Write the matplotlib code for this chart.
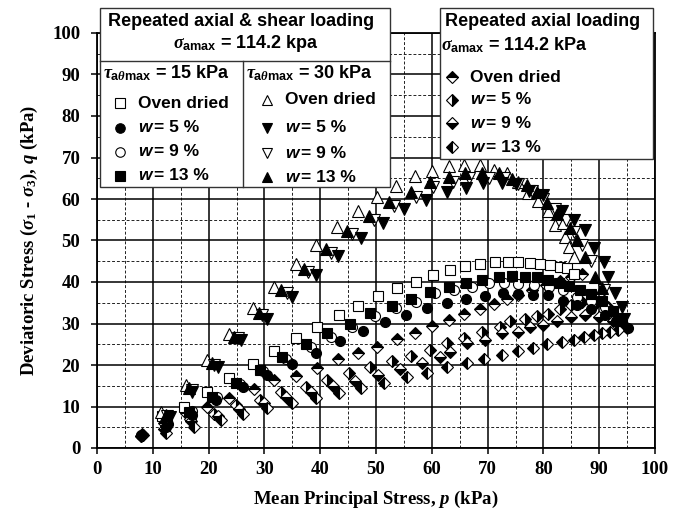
import matplotlib.pyplot as plt
from matplotlib.patches import Rectangle
from matplotlib.lines import Line2D
from matplotlib.ticker import MultipleLocator

plt.rcParams['mathtext.fontset'] = 'custom'
plt.rcParams['mathtext.rm'] = 'Liberation Serif:bold'
plt.rcParams['mathtext.it'] = 'Liberation Serif:italic:bold'
plt.rcParams['mathtext.bf'] = 'Liberation Serif:bold'
plt.rcParams['mathtext.sf'] = 'Liberation Sans:bold'

# ---- repeated axial & shear loading, tau = 15 kPa ----
p15_dry = [11.6, 15.6, 19.8, 23.7, 27.9, 31.7, 35.7, 39.5, 43.3, 46.7, 50.3, 53.8, 57.1, 60.2, 63.3,
           66.0, 68.7, 71.4, 73.6, 75.5, 77.6, 79.4, 81.2, 83.0, 84.2, 85.5]
q15_dry = [7.6, 9.8, 13.6, 16.8, 20.2, 23.4, 26.6, 29.2, 32.0, 34.3, 36.6, 38.5, 40.1, 41.8, 42.9,
           43.8, 44.3, 44.7, 44.9, 44.9, 44.5, 44.3, 44.1, 43.7, 43.3, 42.0]
p15_w5 = [7.9, 12.3, 17.1, 21.3, 26.1, 30.5, 35.0, 39.2, 43.6, 47.7, 51.7, 55.4, 59.2, 62.8, 66.2,
          69.6, 72.7, 75.5, 78.2, 80.9, 83.5, 86.0, 88.5, 91.0, 93.0, 95.2]
q15_w5 = [3.1, 5.1, 8.0, 11.6, 14.8, 17.5, 20.3, 23.0, 25.9, 28.3, 30.4, 32.0, 33.7, 35.0, 35.8,
          36.6, 37.3, 37.0, 36.9, 36.9, 35.5, 34.5, 33.5, 32.0, 30.5, 29.0]
p15_w9 = [12.8, 17.0, 21.5, 25.6, 29.8, 33.8, 38.3, 41.9, 45.7, 49.9, 53.5, 57.1, 60.6, 63.9, 67.2,
          70.2, 73.0, 75.5, 78.3, 81.0, 83.5, 86.0, 88.5, 91.0]
q15_w9 = [5.8, 9.0, 12.3, 15.5, 18.5, 21.5, 24.4, 26.8, 29.2, 31.8, 33.7, 35.3, 37.3, 38.1, 38.9,
          39.8, 39.8, 39.5, 39.3, 38.8, 38.0, 36.5, 35.5, 34.0]
p15_w13 = [12.6, 16.5, 20.6, 24.9, 29.3, 33.2, 37.4, 41.3, 45.3, 48.9, 52.8, 56.2, 59.7, 63.0, 66.1,
           69.0, 72.0, 74.4, 76.7, 78.8, 80.9, 82.8, 84.5, 86.5, 88.5, 90.5, 92.5, 94.0]
q15_w13 = [6.5, 8.7, 12.2, 15.6, 18.8, 22.0, 25.0, 27.6, 30.0, 32.6, 34.2, 36.0, 37.7, 38.7, 39.7,
           40.6, 41.3, 41.5, 41.1, 41.1, 40.6, 39.7, 39.0, 38.0, 37.0, 35.5, 33.0, 30.5]

# ---- repeated axial & shear loading, tau = 30 kPa ----
p30_dry = [11.4, 15.9, 19.7, 23.7, 27.9, 31.7, 35.6, 39.2, 43.1, 46.7, 50.2, 53.6, 56.9, 60.0, 63.1,
           65.7, 68.7, 71.1, 73.5, 75.5, 77.3, 79.1, 80.9, 82.1, 83.6, 83.9, 84.5, 85.5]
q30_dry = [8.7, 15.2, 21.2, 27.5, 33.7, 38.9, 44.3, 48.9, 53.3, 57.2, 60.6, 63.2, 65.5, 66.8, 67.9,
           68.2, 68.2, 67.1, 66.2, 64.2, 61.5, 59.4, 57.0, 53.7, 54.1, 50.9, 48.5, 46.0]
p30_w5 = [13.0, 17.1, 21.6, 25.8, 30.5, 35.0, 39.2, 43.2, 47.4, 51.3, 55.1, 59.0, 62.7, 66.2, 69.2,
          72.6, 75.0, 77.5, 80.0, 83.3, 85.4, 87.5, 89.0, 90.8, 91.6, 92.8, 94.0, 94.5]
q30_w5 = [7.5, 13.6, 19.6, 26.0, 31.2, 36.5, 41.8, 46.3, 50.5, 54.1, 57.5, 59.8, 61.8, 62.6, 63.8,
          63.8, 63.5, 62.0, 61.0, 57.0, 54.9, 52.5, 48.1, 44.9, 41.3, 37.3, 34.0, 31.0]
p30_w9 = [12.6, 17.0, 21.0, 25.2, 29.6, 34.0, 37.8, 41.9, 45.7, 49.6, 53.2, 57.1, 60.3, 63.8, 66.6,
          70.2, 73.0, 75.5, 78.0, 80.0, 82.0, 84.0, 85.5, 87.0, 88.5, 90.8]
q30_w9 = [7.8, 14.0, 20.0, 26.4, 32.0, 37.3, 42.5, 46.9, 51.6, 54.9, 58.3, 60.6, 63.0, 64.2, 65.0,
          65.0, 65.0, 63.5, 62.0, 60.0, 57.5, 55.0, 52.0, 49.0, 45.0, 38.1]
p30_w13 = [12.3, 16.5, 20.6, 24.6, 29.0, 32.9, 37.1, 41.0, 44.8, 48.7, 52.4, 56.2, 59.6, 63.0, 66.0,
           69.0, 72.0, 74.4, 77.0, 78.8, 80.6, 82.5, 84.8, 86.0, 87.5, 89.3, 90.5]
q30_w13 = [8.0, 14.4, 20.6, 26.8, 32.6, 38.1, 43.1, 48.0, 52.3, 55.9, 59.3, 61.8, 64.2, 65.4, 66.2,
           66.2, 66.2, 64.7, 63.4, 61.8, 59.0, 56.5, 52.9, 50.1, 46.1, 41.3, 38.5]

# ---- repeated axial loading only ----
pax_dry = [8.0, 12.0, 16.0, 19.8, 23.7, 28.1, 31.7, 35.6, 39.4, 43.2, 46.7, 50.2, 53.7, 56.9, 60.0,
           63.0, 65.7, 68.7, 71.1, 73.5, 75.5, 78.0, 80.5, 83.0, 85.0, 87.0]
qax_dry = [3.4, 6.0, 8.5, 9.8, 12.0, 14.1, 16.4, 17.3, 19.2, 21.4, 22.8, 24.4, 26.2, 27.6, 29.4,
           30.8, 32.4, 33.6, 34.8, 36.0, 36.9, 38.0, 39.2, 40.3, 41.2, 42.0]
pax_w5 = [8.2, 12.4, 16.6, 21.0, 24.9, 29.3, 32.9, 37.4, 41.3, 45.1, 48.9, 52.8, 56.2, 59.6, 62.7,
          65.7, 69.0, 72.3, 74.1, 76.7, 78.8, 80.9, 83.0, 85.0, 87.0, 89.5, 91.6]
qax_w5 = [3.2, 5.2, 7.0, 8.3, 10.4, 11.6, 13.6, 14.8, 16.4, 18.0, 19.6, 21.0, 22.2, 23.6, 25.3,
          26.4, 28.0, 29.2, 30.5, 31.2, 31.7, 32.4, 33.5, 34.5, 35.3, 35.0, 34.0]
pax_w9 = [7.9, 12.0, 16.8, 21.6, 25.5, 29.9, 33.8, 38.3, 42.3, 46.3, 50.3, 54.3, 58.3, 61.5, 63.3,
          66.3, 69.6, 72.6, 75.5, 77.6, 80.0, 82.5, 85.0, 87.5, 90.0, 92.5]
qax_w9 = [3.0, 4.6, 6.5, 7.6, 9.4, 10.8, 12.4, 13.6, 14.9, 16.2, 17.6, 19.0, 20.6, 22.0, 23.2,
          25.2, 26.0, 27.6, 28.0, 29.2, 29.6, 30.5, 31.5, 32.0, 31.5, 30.5]
pax_w13 = [7.9, 12.3, 17.4, 22.2, 26.1, 30.5, 35.0, 39.2, 43.3, 47.4, 51.4, 55.5, 59.2, 62.7, 66.3,
           69.3, 72.6, 75.5, 78.2, 80.6, 83.3, 85.4, 87.2, 89.0, 90.5, 92.0, 93.4, 94.9]
qax_w13 = [2.8, 3.5, 5.0, 6.7, 8.3, 9.6, 10.8, 12.0, 13.2, 14.5, 15.7, 17.0, 18.1, 19.4, 20.5,
           21.4, 22.4, 23.4, 24.2, 25.0, 25.6, 26.0, 26.8, 27.2, 27.6, 28.0, 28.4, 28.8]

W, H = 686, 517
fig = plt.figure(figsize=(W / 100, H / 100), dpi=100)
ax = fig.add_axes([97 / W, 1 - 448 / H, (655 - 97) / W, (448 - 33) / H])

MS = 7.2
MSD = 6.4
MEW = 0.8
styles = {
    'd15': dict(marker='s', ms=MS, mfc='w'),
    'w5_15': dict(marker='o', ms=MS, mfc='k'),
    'w9_15': dict(marker='o', ms=MS, mfc='w'),
    'w13_15': dict(marker='s', ms=MS, mfc='k'),
    'd30': dict(marker='^', ms=MS + 1, mfc='w'),
    'w5_30': dict(marker='v', ms=MS + 1, mfc='k'),
    'w9_30': dict(marker='v', ms=MS + 1, mfc='w'),
    'w13_30': dict(marker='^', ms=MS + 1, mfc='k'),
    'dax': dict(marker='D', ms=MSD, mfc='k', mfcalt='w', fillstyle='top'),
    'w5ax': dict(marker='D', ms=MSD, mfc='k', mfcalt='w', fillstyle='right'),
    'w9ax': dict(marker='D', ms=MSD, mfc='k', mfcalt='w', fillstyle='bottom'),
    'w13ax': dict(marker='D', ms=MSD, mfc='k', mfcalt='w', fillstyle='left'),
}

def draw(x, y, key):
    ax.plot(x, y, ls='none', mec='k', mew=MEW, clip_on=False, **styles[key])

draw(pax_dry, qax_dry, 'dax')
draw(pax_w5, qax_w5, 'w5ax')
draw(pax_w9, qax_w9, 'w9ax')
draw(pax_w13, qax_w13, 'w13ax')
draw(p15_dry, q15_dry, 'd15')
draw(p15_w9, q15_w9, 'w9_15')
draw(p15_w13, q15_w13, 'w13_15')
draw(p15_w5, q15_w5, 'w5_15')
draw(p30_dry, q30_dry, 'd30')
draw(p30_w9, q30_w9, 'w9_30')
draw(p30_w13, q30_w13, 'w13_30')
draw(p30_w5, q30_w5, 'w5_30')

ax.set_xlim(0, 100)
ax.set_ylim(0, 100)
ax.xaxis.set_major_locator(MultipleLocator(10))
ax.yaxis.set_major_locator(MultipleLocator(10))
ax.xaxis.set_minor_locator(MultipleLocator(5))
ax.yaxis.set_minor_locator(MultipleLocator(5))
ax.grid(which='major', color='k', lw=1.1, ls='-')
ax.grid(which='minor', color='#222222', lw=0.7, ls=(0, (3, 2)))
ax.set_axisbelow(True)
for s in ax.spines.values():
    s.set_linewidth(1.3)
ax.tick_params(which='major', direction='out', length=4, width=1.1)
ax.tick_params(which='minor', length=0)
ax.tick_params(axis='x', pad=5)
ax.tick_params(axis='y', pad=8)
for lab in ax.get_xticklabels() + ax.get_yticklabels():
    lab.set_fontfamily('Liberation Serif')
    lab.set_fontweight('bold')
    lab.set_fontsize(13.5)

ax.set_xlabel(r'Mean Principal Stress, $p$ (kPa)', family='Liberation Serif',
              weight='bold', fontsize=13.5, labelpad=8)
ax.set_ylabel(r'Deviatoric Stress ($\sigma_1$ - $\sigma_3$), $q$ (kPa)', family='Liberation Serif',
              weight='bold', fontsize=13.5, labelpad=9)

# ---- legend boxes drawn in pixel coordinates ----
def fx(x):
    return x / W

def fy(y):
    return 1 - y / H

def box(x0, y0, x1, y1):
    fig.add_artist(Rectangle((fx(x0), fy(y1)), fx(x1) - fx(x0), fy(y0) - fy(y1),
                             transform=fig.transFigure, facecolor='w', edgecolor='#333333',
                             lw=1.0, zorder=5))

def hline(x0, x1, y):
    fig.add_artist(Line2D([fx(x0), fx(x1)], [fy(y), fy(y)], transform=fig.transFigure,
                          color='#333333', lw=1.0, zorder=6))

def vline(x, y0, y1):
    fig.add_artist(Line2D([fx(x), fx(x)], [fy(y0), fy(y1)], transform=fig.transFigure,
                          color='#333333', lw=1.0, zorder=6))

def txt(x, y, s, ha='left', size=12.5, **kw):
    fig.text(fx(x), fy(y), s, ha=ha, va='center', family='Liberation Sans', weight='bold',
             fontsize=size, zorder=7, **kw)

def entry(x, y, key, label):
    st = dict(styles[key])
    ms = st.pop('ms') * 0.95
    fig.add_artist(Line2D([fx(x)], [fy(y)], transform=fig.transFigure, ls='none', ms=ms,
                          mec='k', mew=MEW, zorder=8, **st))
    if label.startswith('w'):
        txt(x + 18, y, 'w', style='italic')
        txt(x + 34, y, label[1:])
    else:
        txt(x + 18, y, label)

box(100, 8, 390, 187)
hline(100, 390, 61)
vline(243, 61, 187)
txt(241, 21, 'Repeated axial & shear loading', ha='center', size=13)
txt(246, 44, r'$\sigma_{\mathsf{amax}}$ = 114.2 kpa', ha='center', size=13)
txt(103, 73, r'$\tau_{\mathsf{a}\theta\mathsf{max}}$ = 15 kPa', size=13)
txt(246, 73, r'$\tau_{\mathsf{a}\theta\mathsf{max}}$ = 30 kPa', size=13)

labels = ['Oven dried', 'w= 5 %', 'w= 9 %', 'w= 13 %']
for yy, key, lab in zip([103, 128, 152, 176], ['d15', 'w5_15', 'w9_15', 'w13_15'], labels):
    entry(120, yy, key, lab)
for yy, key, lab in zip([100, 128, 153, 177], ['d30', 'w5_30', 'w9_30', 'w13_30'], labels):
    entry(267, yy, key, lab)

box(440, 8, 653, 159)
txt(445, 21, 'Repeated axial loading', size=13)
txt(441, 45, r'$\sigma_{\mathsf{amax}}$ = 114.2 kPa', size=13)
for yy, key, lab in zip([77, 100, 123, 147], ['dax', 'w5ax', 'w9ax', 'w13ax'], labels):
    entry(452, yy, key, lab)

fig.savefig('out.png', dpi=100)
